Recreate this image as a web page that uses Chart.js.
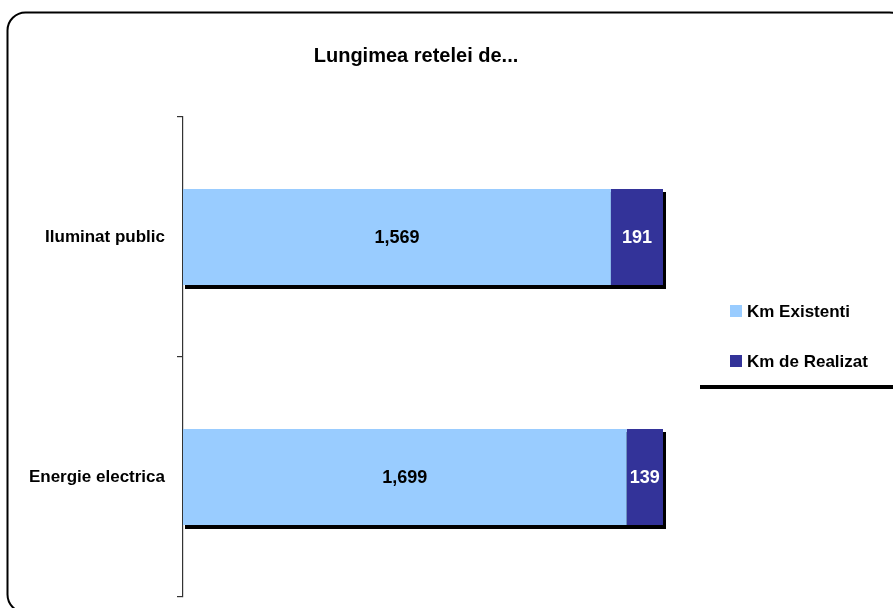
<!DOCTYPE html>
<html>
<head>
<meta charset="utf-8">
<script src="https://cdn.jsdelivr.net/npm/chart.js@4"></script>
<style>
html,body{margin:0;padding:0;background:#fff;}
#wrap{position:relative;width:893px;height:608px;}
</style>
</head>
<body>
<div id="wrap"><canvas id="c" width="893" height="608"></canvas></div>
<script>
const categories = ["Iluminat public", "Energie electrica"];
const kmExistenti = [1569, 1699];
const kmDeRealizat = [191, 139];
const seriesNames = ["Km Existenti", "Km de Realizat"];
const titleText = "Lungimea retelei de...";

const totals = categories.map((_, i) => kmExistenti[i] + kmDeRealizat[i]);
const share = arr => arr.map((v, i) => v / totals[i] * 100);

const FONT = "'Liberation Sans', Arial, sans-serif";
Chart.defaults.font.family = FONT;

const decor = {
  id: 'decor',
  beforeDraw(chart) {
    const ctx = chart.ctx;
    ctx.save();
    ctx.fillStyle = '#fff';
    ctx.fillRect(0, 0, chart.width, chart.height);
    // rounded frame
    ctx.strokeStyle = '#000';
    ctx.lineWidth = 2;
    ctx.beginPath();
    ctx.roundRect(7.5, 12.5, 900, 600, 18);
    ctx.stroke();
    // title
    ctx.fillStyle = '#000';
    ctx.font = 'bold 20px ' + FONT;
    ctx.textAlign = 'center';
    ctx.textBaseline = 'alphabetic';
    ctx.fillText(titleText, 416, 62);
    ctx.restore();
  },
  beforeDatasetsDraw(chart) {
    const ctx = chart.ctx;
    const m0 = chart.getDatasetMeta(0);
    const m1 = chart.getDatasetMeta(chart.data.datasets.length - 1);
    ctx.save();
    ctx.fillStyle = '#000';
    m0.data.forEach((bar, i) => {
      const end = m1.data[i];
      const left = Math.min(bar.base, bar.x);
      const right = end.x;
      const top = bar.y - bar.height / 2;
      const bottom = bar.y + bar.height / 2;
      ctx.fillRect(left + 2, top + 3, right - left + 1, bottom - top + 1);
    });
    ctx.restore();
  },
  afterDatasetsDraw(chart) {
    const ctx = chart.ctx;
    ctx.save();
    ctx.font = 'bold 18px ' + FONT;
    ctx.textAlign = 'center';
    ctx.textBaseline = 'alphabetic';
    const raw = [kmExistenti, kmDeRealizat];
    const colors = ['#000', '#fff'];
    chart.data.datasets.forEach((ds, d) => {
      const meta = chart.getDatasetMeta(d);
      meta.data.forEach((bar, i) => {
        const cx = (bar.base + bar.x) / 2;
        ctx.fillStyle = colors[d];
        ctx.fillText(raw[d][i].toLocaleString('en-US'), cx, bar.y + 6);
      });
    });
    ctx.restore();
  },
  afterDraw(chart) {
    const ctx = chart.ctx;
    ctx.save();
    ctx.font = 'bold 17px ' + FONT;
    ctx.textAlign = 'left';
    ctx.textBaseline = 'alphabetic';
    chart.data.datasets.forEach((ds, d) => {
      const y = 305 + d * 50;
      ctx.fillStyle = ds.backgroundColor;
      ctx.fillRect(730, y, 12, 12);
      ctx.fillStyle = '#000';
      ctx.fillText(ds.label, 747, y + 12);
    });
    ctx.fillStyle = '#000';
    ctx.fillRect(700, 385, 193, 4);
    ctx.restore();
  }
};

new Chart(document.getElementById('c'), {
  type: 'bar',
  data: {
    labels: categories,
    datasets: [
      { label: seriesNames[0], data: share(kmExistenti), backgroundColor: '#99CCFF', borderWidth: 0 },
      { label: seriesNames[1], data: share(kmDeRealizat), backgroundColor: '#333399', borderWidth: 0 }
    ]
  },
  options: {
    indexAxis: 'y',
    responsive: false,
    animation: false,
    devicePixelRatio: 1,
    layout: { autoPadding: false, padding: { left: 0, top: 117, right: 230, bottom: 11 } },
    datasets: { bar: { categoryPercentage: 1, barPercentage: 0.4 } },
    scales: {
      x: { stacked: true, min: 0, max: 100, display: false },
      y: {
        stacked: true,
        afterFit(scale) { scale.width = 183; scale.paddingTop = 0; scale.paddingBottom = 0; },
        grid: { offset: true, drawOnChartArea: false, tickLength: 6, color: '#333', lineWidth: 1.2 },
        border: { display: true, color: '#333', width: 1.2 },
        ticks: { color: '#000', font: { size: 17, weight: 'bold', family: FONT }, padding: 12 }
      }
    },
    plugins: {
      legend: { display: false },
      title: { display: false },
      tooltip: { enabled: false }
    }
  },
  plugins: [decor]
});
</script>
</body>
</html>
